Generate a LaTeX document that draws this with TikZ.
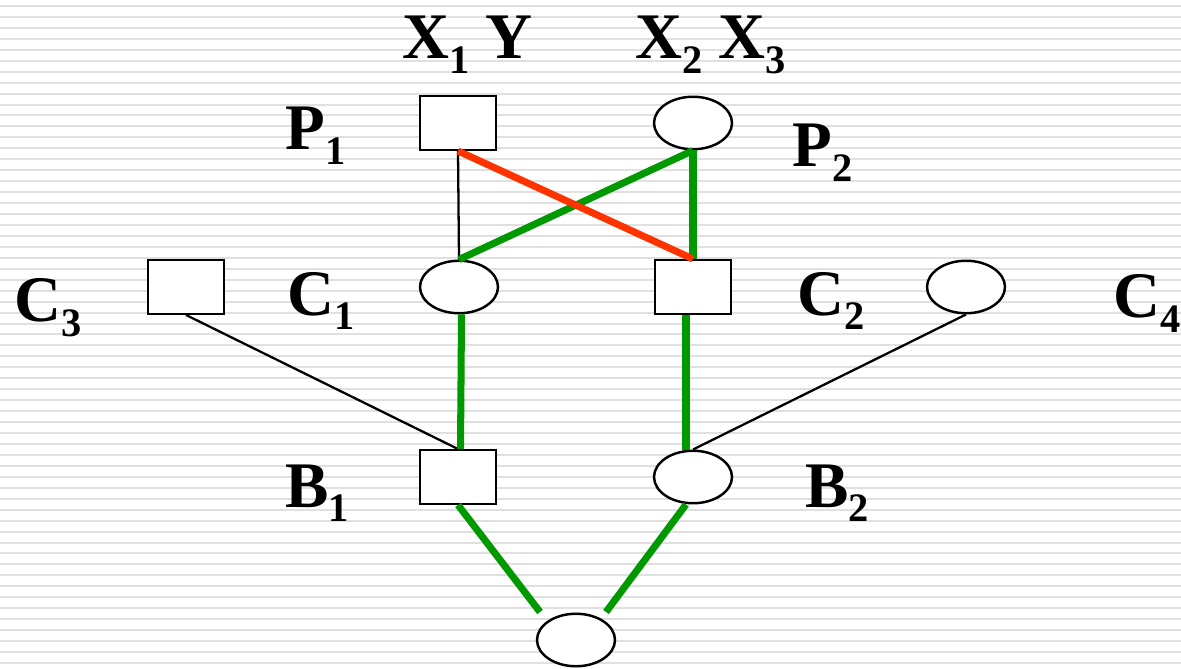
\documentclass[tikz,border=0pt]{standalone}
\usepackage{fontspec}
\setmainfont{Liberation Serif}
\usepackage{xcolor}
\usetikzlibrary{positioning,shapes.geometric}
\definecolor{pathgreen}{RGB}{0,153,0}
\definecolor{pathred}{RGB}{255,51,0}
\definecolor{stripegrey}{RGB}{224,224,224}
\newcommand{\sbs}[1]{\raisebox{-0.22em}{\fontsize{23}{23}\selectfont #1}}
\begin{document}
\begin{tikzpicture}[
    sqnode/.style={
        draw,
        line width=1.4pt,
        fill=white,
        rectangle,
        inner sep=0pt,
        minimum width=1.52cm,
        minimum height=1.07cm
    },
    ovnode/.style={
        draw,
        line width=1.4pt,
        fill=white,
        ellipse,
        inner sep=0pt,
        minimum width=1.56cm,
        minimum height=1.05cm
    },
    lbl/.style={
        anchor=base west,
        inner sep=0pt,
        font=\fontsize{37}{44}\selectfont\bfseries
    },
    thinline/.style={line width=1.3pt},
    greenline/.style={line width=4pt, pathgreen},
    redline/.style={line width=4pt, pathred},
    stripe/.style={line width=0.04cm, stripegrey}
]
\useasboundingbox (0,0) rectangle (23.62,13.36);
\fill[white] (0,0) rectangle (23.62,13.36);

% BACKGROUND
\foreach \i in {0,...,60}
    \draw[stripe] (0,{13.24-0.219*\i}) -- (23.62,{13.24-0.219*\i});

% TOP ROW
\node[sqnode] (P1) at (9.16,10.90) {};
\node[ovnode] (P2) at (13.86,10.90) {};

% MIDDLE ROW
\node[sqnode] (C3) at (3.72,7.62) {};
\node[ovnode] (C1) at (9.18,7.62) {};
\node[sqnode] (C2) at (13.86,7.62) {};
\node[ovnode] (C4) at (19.32,7.62) {};

% LOWER ROW
\node[sqnode] (B1) at (9.16,3.82) {};
\node[ovnode] (B2) at (13.86,3.82) {};
\node[ovnode] (bot) at (11.52,0.56) {};
\coordinate (botleft) at (10.80,1.12);
\coordinate (botright) at (12.12,1.12);

% LABELS
\node[lbl] (lx1y) at (8.04,12.18) {X\sbs{1} Y};
\node[lbl] (lx2x3) at (12.70,12.18) {X\sbs{2} X\sbs{3}};
\node[lbl] (lp1) at (5.70,10.36) {P\sbs{1}};
\node[lbl] (lp2) at (15.84,10.02) {P\sbs{2}};
\node[lbl] (lc3) at (0.28,6.92) {C\sbs{3}};
\node[lbl] (lc1) at (5.74,7.06) {C\sbs{1}};
\node[lbl] (lc2) at (15.94,7.06) {C\sbs{2}};
\node[lbl] (lc4) at (22.26,7.00) {C\sbs{4}};
\node[lbl] (lb1) at (5.70,3.22) {B\sbs{1}};
\node[lbl] (lb2) at (16.10,3.22) {B\sbs{2}};

% EDGES
\draw[thinline] (P1.south) -- (C1.north);
\draw[thinline] (C3.south) -- (B1.north);
\draw[thinline] (C4.south) -- (B2.north);
\draw[greenline] (P2.south) -- (C1.north);
\draw[greenline] (P2.south) -- (C2.north);
\draw[redline] (P1.south) -- (C2.north);
\draw[greenline] ([xshift=0.05cm]C1.south) -- ([xshift=0.05cm]B1.north);
\draw[greenline] ([xshift=-0.14cm]C2.south) -- ([xshift=-0.14cm]B2.north);
\draw[greenline] (B1.south) -- (botleft);
\draw[greenline] ([xshift=-0.14cm]B2.south) -- (botright);

\end{tikzpicture}
\end{document}
